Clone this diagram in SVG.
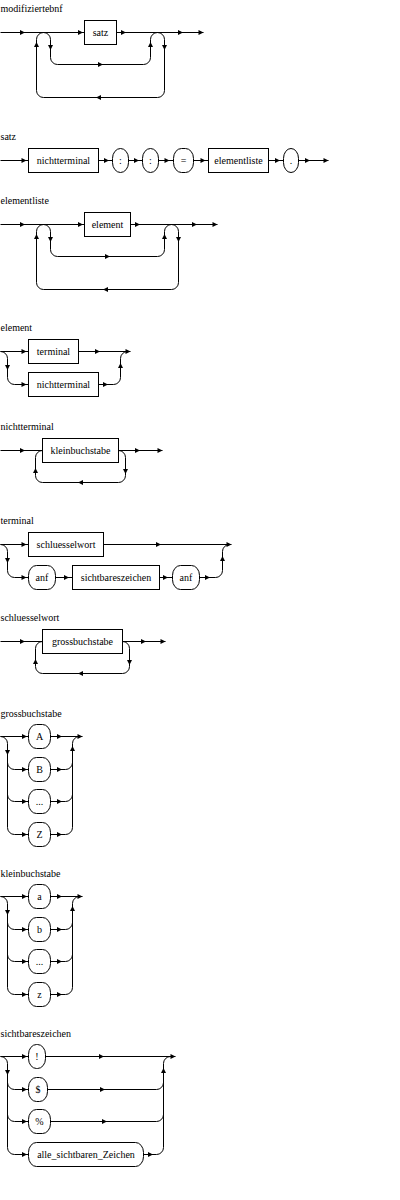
<svg xmlns="http://www.w3.org/2000/svg" xmlns:xlink="http://www.w3.org/1999/xlink" width="400" height="1200" viewBox="0 0 400 1200">
<style>
.t{font-family:"Liberation Serif","Times New Roman",serif;font-size:10px;fill:#000}
.c{text-anchor:middle}
.b{fill:#fff;stroke:#000;stroke-width:1}
.w{fill:none;stroke:#000;stroke-width:1}
.a{fill:#000}
</style>
<defs>
<path id="ar" class="a" d="M2.5,0 L-2.5,-2.5 L-2.5,2.5 Z"/>
<path id="al" class="a" d="M-2.5,0 L2.5,-2.5 L2.5,2.5 Z"/>
<path id="ad" class="a" d="M0,2.5 L-2.5,-2.5 L2.5,-2.5 Z"/>
<path id="au" class="a" d="M0,-2.5 L-2.5,2.5 L2.5,2.5 Z"/>
</defs>
<rect width="400" height="1200" fill="#fff"/>
<g transform="translate(0.5,0.5)">

<!-- modifiziertebnf -->
<g id="d1">
<text class="t" x="0" y="11">modifiziertebnf</text>
<g id="d1-conn">
<path class="w" d="M0,32 H84 M116,32 H203"/>
<path class="w" d="M36,39 A7,7 0 0 1 50,39 V57 A7,7 0 0 0 57,64 H143 A7,7 0 0 0 150,57 V39 A7,7 0 0 1 164,39 V90 A7,7 0 0 1 157,97 H43 A7,7 0 0 1 36,90 Z"/>
<use xlink:href="#ar" x="22" y="32"/><use xlink:href="#ar" x="80" y="32"/><use xlink:href="#ar" x="123" y="32"/><use xlink:href="#ar" x="180" y="32"/><use xlink:href="#ar" x="200.5" y="32"/>
<use xlink:href="#ad" x="50" y="47"/><use xlink:href="#au" x="36" y="44"/><use xlink:href="#ar" x="100" y="64"/><use xlink:href="#au" x="150" y="44"/><use xlink:href="#ad" x="164" y="47"/><use xlink:href="#al" x="98" y="97"/>
</g>
<g id="d1-satz"><rect class="b" x="84" y="20" width="32" height="24"/><text class="t c" x="100" y="35.5">satz</text></g>
</g>

<!-- satz -->
<g id="d2">
<text class="t" x="0" y="139">satz</text>
<g id="d2-conn">
<path class="w" d="M0,160 H28 M98,160 H112 M128,160 H142 M158,160 H173 M193,160 H208 M268,160 H283 M298,160 H328"/>
<use xlink:href="#ar" x="23.5" y="160"/><use xlink:href="#ar" x="106" y="160"/><use xlink:href="#ar" x="136" y="160"/><use xlink:href="#ar" x="166.5" y="160"/><use xlink:href="#ar" x="202.5" y="160"/><use xlink:href="#ar" x="277" y="160"/><use xlink:href="#ar" x="307" y="160"/><use xlink:href="#ar" x="325.5" y="160"/>
</g>
<g id="d2-nichtterminal"><rect class="b" x="28" y="148" width="70" height="24"/><text class="t c" x="63" y="163.5">nichtterminal</text></g>
<g id="d2-colon1"><rect class="b" x="112" y="148" width="16" height="24" rx="8" ry="10"/><text class="t c" x="120" y="163.5">:</text></g>
<g id="d2-colon2"><rect class="b" x="142" y="148" width="16" height="24" rx="8" ry="10"/><text class="t c" x="150" y="163.5">:</text></g>
<g id="d2-eq"><rect class="b" x="173" y="148" width="20" height="24" rx="8" ry="10"/><text class="t c" x="183" y="163.5">=</text></g>
<g id="d2-elementliste"><rect class="b" x="208" y="148" width="60" height="24"/><text class="t c" x="238" y="163.5">elementliste</text></g>
<g id="d2-dot"><rect class="b" x="283" y="148" width="15" height="24" rx="7.5" ry="10"/><text class="t c" x="290.5" y="163.5">.</text></g>
</g>

<!-- elementliste -->
<g id="d3">
<text class="t" x="0" y="203">elementliste</text>
<g id="d3-conn">
<path class="w" d="M0,224 H84 M130,224 H217"/>
<path class="w" d="M36,231 A7,7 0 0 1 50,231 V249 A7,7 0 0 0 57,256 H157 A7,7 0 0 0 164,249 V231 A7,7 0 0 1 178,231 V282 A7,7 0 0 1 171,289 H43 A7,7 0 0 1 36,282 Z"/>
<use xlink:href="#ar" x="22" y="224"/><use xlink:href="#ar" x="80" y="224"/><use xlink:href="#ar" x="137" y="224"/><use xlink:href="#ar" x="194" y="224"/><use xlink:href="#ar" x="214.5" y="224"/>
<use xlink:href="#ad" x="50" y="239"/><use xlink:href="#au" x="36" y="236"/><use xlink:href="#ar" x="107" y="256"/><use xlink:href="#au" x="164" y="236"/><use xlink:href="#ad" x="178" y="239"/><use xlink:href="#al" x="105" y="289"/>
</g>
<g id="d3-element"><rect class="b" x="84" y="212" width="46" height="24"/><text class="t c" x="107" y="227.5">element</text></g>
</g>

<!-- element -->
<g id="d4">
<text class="t" x="0" y="330">element</text>
<g id="d4-conn">
<path class="w" d="M0,351 H28 M78,351 H130 M0,351 A7,7 0 0 1 7,358 V377 A7,7 0 0 0 14,384 H28 M98,384 H113 A7,7 0 0 0 120,377 V358 A7,7 0 0 1 127,351"/>
<use xlink:href="#ar" x="23.5" y="351"/><use xlink:href="#ar" x="23.5" y="384"/><use xlink:href="#ar" x="97" y="351"/><use xlink:href="#ar" x="105" y="384"/><use xlink:href="#ar" x="127.5" y="351"/>
<use xlink:href="#ad" x="7" y="367"/><use xlink:href="#au" x="120" y="365"/>
</g>
<g id="d4-terminal"><rect class="b" x="28" y="339" width="50" height="24"/><text class="t c" x="53" y="354.5">terminal</text></g>
<g id="d4-nichtterminal"><rect class="b" x="28" y="372" width="70" height="24"/><text class="t c" x="63" y="387.5">nichtterminal</text></g>
</g>

<!-- nichtterminal -->
<g id="d5">
<text class="t" x="0" y="429">nichtterminal</text>
<g id="d5-conn">
<path class="w" d="M0,450 H42 M118,450 H162"/>
<path class="w" d="M118,450 A7,7 0 0 1 125,457 V475 A7,7 0 0 1 118,482 H42 A7,7 0 0 1 35,475 V457 A7,7 0 0 1 42,450"/>
<use xlink:href="#ar" x="22" y="450"/><use xlink:href="#ar" x="137" y="450"/><use xlink:href="#ar" x="159.5" y="450"/>
<use xlink:href="#ad" x="125" y="471"/><use xlink:href="#al" x="80" y="482"/><use xlink:href="#au" x="35" y="470"/>
</g>
<g id="d5-kleinbuchstabe"><rect class="b" x="42" y="438" width="76" height="24"/><text class="t c" x="80" y="453.5">kleinbuchstabe</text></g>
</g>

<!-- terminal -->
<g id="d6">
<text class="t" x="0" y="523">terminal</text>
<g id="d6-conn">
<path class="w" d="M0,544 H28 M103,544 H231 M0,544 A7,7 0 0 1 7,551 V570 A7,7 0 0 0 14,577 H28 M55,577 H72 M159,577 H172 M199,577 H215 A7,7 0 0 0 222,570 V551 A7,7 0 0 1 229,544"/>
<use xlink:href="#ar" x="23.5" y="544"/><use xlink:href="#ar" x="23.5" y="577"/><use xlink:href="#ar" x="158" y="544"/><use xlink:href="#ar" x="66" y="577"/><use xlink:href="#ar" x="165" y="577"/><use xlink:href="#ar" x="207" y="577"/><use xlink:href="#ar" x="228.5" y="544"/>
<use xlink:href="#ad" x="7" y="560"/><use xlink:href="#au" x="222" y="558"/>
</g>
<g id="d6-schluesselwort"><rect class="b" x="28" y="532" width="75" height="24"/><text class="t c" x="65.5" y="547.5">schluesselwort</text></g>
<g id="d6-anf1"><rect class="b" x="28" y="565" width="27" height="24" rx="8" ry="10"/><text class="t c" x="41.5" y="580.5">anf</text></g>
<g id="d6-sichtbareszeichen"><rect class="b" x="72" y="565" width="87" height="24"/><text class="t c" x="115.5" y="580.5">sichtbareszeichen</text></g>
<g id="d6-anf2"><rect class="b" x="172" y="565" width="27" height="24" rx="8" ry="10"/><text class="t c" x="185.5" y="580.5">anf</text></g>
</g>

<!-- schluesselwort -->
<g id="d7">
<text class="t" x="0" y="620">schluesselwort</text>
<g id="d7-conn">
<path class="w" d="M0,641 H42 M122,641 H165"/>
<path class="w" d="M122,641 A7,7 0 0 1 129,648 V666 A7,7 0 0 1 122,673 H42 A7,7 0 0 1 35,666 V648 A7,7 0 0 1 42,641"/>
<use xlink:href="#ar" x="22" y="641"/><use xlink:href="#ar" x="143" y="641"/><use xlink:href="#ar" x="162.5" y="641"/>
<use xlink:href="#ad" x="129" y="662"/><use xlink:href="#al" x="80" y="673"/><use xlink:href="#au" x="35" y="661"/>
</g>
<g id="d7-grossbuchstabe"><rect class="b" x="42" y="629" width="80" height="24"/><text class="t c" x="82" y="644.5">grossbuchstabe</text></g>
</g>

<!-- grossbuchstabe -->
<g id="d8">
<text class="t" x="0" y="716">grossbuchstabe</text>
<g id="d8-conn">
<path class="w" d="M0,736 H28 M50,736 H82 M0,736 A7,7 0 0 1 7,743 V827 A7,7 0 0 0 14,834 H28 M7,762 A7,7 0 0 0 14,769 H28 M7,794 A7,7 0 0 0 14,801 H28"/>
<path class="w" d="M50,769 H65 A7,7 0 0 0 72,762 M50,801 H65 A7,7 0 0 0 72,794 M50,834 H65 A7,7 0 0 0 72,827 V743 A7,7 0 0 1 79,736"/>
<use xlink:href="#ar" x="24" y="736"/><use xlink:href="#ar" x="24" y="769"/><use xlink:href="#ar" x="24" y="801"/><use xlink:href="#ar" x="24" y="834"/>
<use xlink:href="#ar" x="59" y="736"/><use xlink:href="#ar" x="59" y="769"/><use xlink:href="#ar" x="59" y="801"/><use xlink:href="#ar" x="59" y="834"/>
<use xlink:href="#ar" x="79.5" y="736"/><use xlink:href="#ad" x="7" y="752"/><use xlink:href="#au" x="72" y="748"/>
</g>
<g id="d8-A"><rect class="b" x="28" y="724" width="22" height="24" rx="8" ry="10"/><text class="t c" x="39" y="739.5">A</text></g>
<g id="d8-B"><rect class="b" x="28" y="757" width="22" height="24" rx="8" ry="10"/><text class="t c" x="39" y="772.5">B</text></g>
<g id="d8-dots"><rect class="b" x="28" y="789" width="22" height="24" rx="8" ry="10"/><text class="t c" x="39" y="804.5">...</text></g>
<g id="d8-Z"><rect class="b" x="28" y="822" width="22" height="24" rx="8" ry="10"/><text class="t c" x="39" y="837.5">Z</text></g>
</g>

<!-- kleinbuchstabe -->
<g id="d9">
<text class="t" x="0" y="876">kleinbuchstabe</text>
<g id="d9-conn">
<path class="w" d="M0,896 H28 M50,896 H82 M0,896 A7,7 0 0 1 7,903 V987 A7,7 0 0 0 14,994 H28 M7,922 A7,7 0 0 0 14,929 H28 M7,954 A7,7 0 0 0 14,961 H28"/>
<path class="w" d="M50,929 H65 A7,7 0 0 0 72,922 M50,961 H65 A7,7 0 0 0 72,954 M50,994 H65 A7,7 0 0 0 72,987 V903 A7,7 0 0 1 79,896"/>
<use xlink:href="#ar" x="24" y="896"/><use xlink:href="#ar" x="24" y="929"/><use xlink:href="#ar" x="24" y="961"/><use xlink:href="#ar" x="24" y="994"/>
<use xlink:href="#ar" x="59" y="896"/><use xlink:href="#ar" x="59" y="929"/><use xlink:href="#ar" x="59" y="961"/><use xlink:href="#ar" x="59" y="994"/>
<use xlink:href="#ar" x="79.5" y="896"/><use xlink:href="#ad" x="7" y="912"/><use xlink:href="#au" x="72" y="908"/>
</g>
<g id="d9-a"><rect class="b" x="28" y="884" width="22" height="24" rx="8" ry="10"/><text class="t c" x="39" y="899.5">a</text></g>
<g id="d9-b"><rect class="b" x="28" y="917" width="22" height="24" rx="8" ry="10"/><text class="t c" x="39" y="932.5">b</text></g>
<g id="d9-dots"><rect class="b" x="28" y="949" width="22" height="24" rx="8" ry="10"/><text class="t c" x="39" y="964.5">...</text></g>
<g id="d9-z"><rect class="b" x="28" y="982" width="22" height="24" rx="8" ry="10"/><text class="t c" x="39" y="997.5">z</text></g>
</g>

<!-- sichtbareszeichen -->
<g id="d10">
<text class="t" x="0" y="1036">sichtbareszeichen</text>
<g id="d10-conn">
<path class="w" d="M0,1056 H28 M45,1056 H175 M0,1056 A7,7 0 0 1 7,1063 V1147 A7,7 0 0 0 14,1154 H28 M7,1082 A7,7 0 0 0 14,1089 H28 M7,1114 A7,7 0 0 0 14,1121 H28"/>
<path class="w" d="M47,1089 H156 A7,7 0 0 0 163,1082 M50,1121 H156 A7,7 0 0 0 163,1114 M143,1154 H156 A7,7 0 0 0 163,1147 V1063 A7,7 0 0 1 170,1056"/>
<use xlink:href="#ar" x="24" y="1056"/><use xlink:href="#ar" x="24" y="1089"/><use xlink:href="#ar" x="24" y="1121"/><use xlink:href="#ar" x="24" y="1154"/>
<use xlink:href="#ar" x="101" y="1056"/><use xlink:href="#ar" x="102" y="1089"/><use xlink:href="#ar" x="104" y="1121"/><use xlink:href="#ar" x="150" y="1154"/>
<use xlink:href="#ar" x="172.5" y="1056"/><use xlink:href="#ad" x="7" y="1072"/><use xlink:href="#au" x="163" y="1070"/>
</g>
<g id="d10-excl"><rect class="b" x="28" y="1044" width="17" height="24" rx="8" ry="10"/><text class="t c" x="36.5" y="1059.5">!</text></g>
<g id="d10-dollar"><rect class="b" x="28" y="1077" width="19" height="24" rx="8" ry="10"/><text class="t c" x="37.5" y="1092.5">$</text></g>
<g id="d10-percent"><rect class="b" x="28" y="1109" width="22" height="24" rx="8" ry="10"/><text class="t c" x="39" y="1124.5">%</text></g>
<g id="d10-alle"><rect class="b" x="28" y="1142" width="115" height="24" rx="8" ry="10"/><text class="t c" x="85.5" y="1157.5">alle_sichtbaren_Zeichen</text></g>
</g>

</g>
</svg>
